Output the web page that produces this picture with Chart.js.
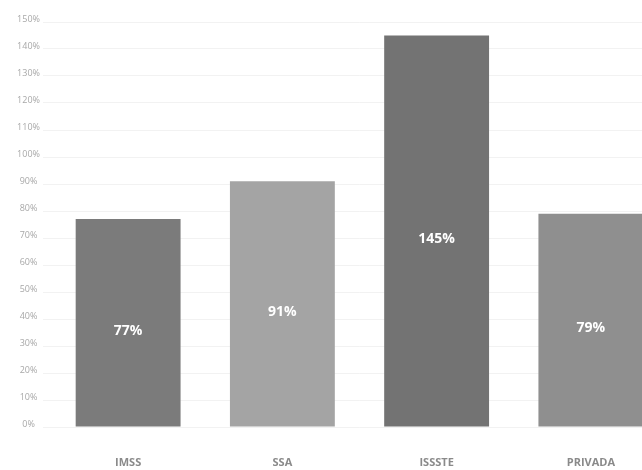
<!DOCTYPE html>
<html>
<head>
<meta charset="utf-8">
<script src="https://cdn.jsdelivr.net/npm/chart.js@4/dist/chart.umd.min.js"></script>
<style>
  html, body { margin: 0; padding: 0; background: #fff; overflow: hidden; }
  #wrap { width: 680px; height: 470px; }
</style>
</head>
<body>
<div id="wrap"><canvas id="barChart"></canvas></div>
<script>
  const labels = ["IMSS", "SSA", "ISSSTE", "PRIVADA"];
  const values = [77, 91, 145, 79];
  const barColors = ["#7b7b7b", "#a4a4a4", "#737373", "#8f8f8f"];
  const yTicks = [0, 10, 20, 30, 40, 50, 60, 70, 80, 90, 100, 110, 120, 130, 140, 150];

  // white value labels in the middle of each bar
  const valueLabels = {
    id: 'valueLabels',
    afterDatasetsDraw(chart) {
      const c = chart.ctx;
      const meta = chart.getDatasetMeta(0);
      c.save();
      c.fillStyle = '#ffffff';
      c.font = 'bold 14px "Open Sans", sans-serif';
      c.textAlign = 'center';
      c.textBaseline = 'middle';
      meta.data.forEach((bar, i) => {
        const mid = (bar.y + bar.base) / 2 + 8;
        c.fillText(values[i] + '%', bar.x, mid);
      });
      c.restore();
    }
  };

  const ctx = document.getElementById('barChart').getContext('2d');
  const chart = new Chart(ctx, {
    type: 'bar',
    data: {
      labels: labels,
      datasets: [{
        data: values,
        backgroundColor: barColors,
        borderWidth: 0,
        barPercentage: 0.68,
        categoryPercentage: 1
      }]
    },
    options: {
      responsive: true,
      maintainAspectRatio: false,
      animation: false,
      layout: { padding: { top: 22, right: 12, bottom: 0, left: 0 } },
      scales: {
        x: {
          afterFit: s => { s.height = 43; },
          grid: { display: false },
          border: { display: false },
          ticks: {
            color: '#8a8a8a',
            padding: 21,
            font: { family: '"Open Sans", sans-serif', size: 11, weight: 'bold' }
          }
        },
        y: {
          min: 0,
          max: 150,
          afterFit: s => { s.width = 51; },
          afterBuildTicks: s => { s.ticks = yTicks.map(v => ({ value: v })); },
          grid: { color: 'rgba(0,0,0,0.05)' },
          border: { display: false },
          ticks: {
            color: '#a8a8a8',
            crossAlign: 'center',
            labelOffset: -3,
            font: { family: '"Open Sans", sans-serif', size: 9 },
            callback: v => v + '%'
          }
        }
      },
      plugins: {
        legend: { display: false },
        tooltip: { enabled: false }
      }
    },
    plugins: [valueLabels]
  });
</script>
</body>
</html>
